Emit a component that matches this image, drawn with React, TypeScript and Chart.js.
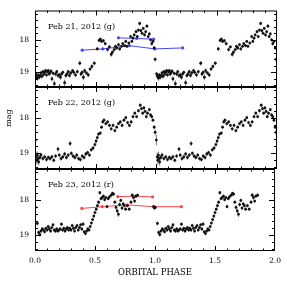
import React, { useEffect, useRef } from "react";
import { Chart, registerables } from "chart.js";
Chart.register(...registerables);

// ---------------- DATA ----------------
const panelLabels = ["Feb 21, 2012 (g)", "Feb 22, 2012 (g)", "Feb 23, 2012 (r)"];
const xTickValues = [0, 0.5, 1.0, 1.5, 2.0];
const yTickValues = [18, 19];

// Feb 21 (g) folded light curve, one cycle (repeated at phase+1 as in the original)
const feb21Phase = [0.005,0.012,0.02,0.028,0.035,0.043,0.05,0.058,0.065,0.073,0.08,0.088,0.095,0.103,0.11,0.118,0.125,0.133,0.14,0.15,0.16,0.17,0.18,0.19,0.2,0.21,0.22,0.23,0.245,0.255,0.265,0.275,0.285,0.295,0.31,0.32,0.335,0.35,0.37,0.38,0.39,0.4,0.41,0.425,0.44,0.455,0.47,0.49,0.515,0.53,0.54,0.55,0.565,0.58,0.6,0.615,0.63,0.64,0.655,0.665,0.675,0.69,0.7,0.715,0.725,0.74,0.75,0.76,0.775,0.79,0.8,0.81,0.82,0.835,0.845,0.855,0.865,0.875,0.885,0.895,0.905,0.915,0.925,0.935,0.945,0.955,0.965,0.975,0.985,0.993];
const feb21Mag = [19.05,19.12,19.18,19.08,19.15,19.1,19.02,19.12,18.98,19.06,19.0,18.95,19.08,18.98,18.95,19.05,19.0,18.96,19.2,19.03,19.35,19.05,18.98,19.1,19.08,19.15,19.05,19.0,19.32,19.1,19.05,18.98,19.1,19.02,18.95,19.0,19.08,18.98,18.72,19.05,19.0,19.15,18.95,19.02,19.08,18.9,18.82,18.72,18.28,18.02,17.98,18.05,18.03,18.12,18.3,18.22,18.45,18.38,18.3,18.2,18.25,18.15,18.28,18.2,18.12,18.18,18.05,18.2,18.1,17.9,18.05,17.95,17.85,17.75,17.9,17.7,17.5,17.72,17.8,17.65,17.85,17.75,17.58,17.9,17.82,18.0,18.12,18.05,18.25,18.6];
const feb21Err = [0.06,0.07,0.08,0.06,0.07,0.06,0.06,0.07,0.06,0.06,0.07,0.06,0.06,0.06,0.06,0.07,0.06,0.06,0.09,0.06,0.1,0.07,0.06,0.07,0.07,0.08,0.06,0.06,0.1,0.07,0.07,0.06,0.07,0.06,0.06,0.07,0.07,0.06,0.07,0.07,0.06,0.09,0.07,0.06,0.07,0.06,0.07,0.06,0.06,0.05,0.05,0.05,0.05,0.05,0.06,0.05,0.07,0.06,0.06,0.05,0.06,0.05,0.06,0.05,0.05,0.05,0.05,0.05,0.05,0.05,0.05,0.05,0.05,0.05,0.05,0.05,0.06,0.05,0.05,0.05,0.05,0.05,0.06,0.05,0.05,0.05,0.06,0.05,0.06,0.07];

// Feb 22 (g)
const feb22Phase = [0.003,0.01,0.015,0.02,0.025,0.03,0.04,0.05,0.065,0.08,0.095,0.11,0.125,0.14,0.155,0.17,0.19,0.2,0.215,0.23,0.245,0.26,0.275,0.29,0.3,0.315,0.33,0.345,0.36,0.375,0.39,0.405,0.42,0.435,0.45,0.465,0.48,0.495,0.505,0.515,0.525,0.54,0.55,0.56,0.57,0.585,0.6,0.615,0.63,0.645,0.66,0.675,0.69,0.705,0.72,0.735,0.75,0.765,0.78,0.795,0.81,0.825,0.84,0.855,0.87,0.88,0.89,0.9,0.91,0.92,0.93,0.945,0.955,0.965,0.975,0.985,0.993];
const feb22Mag = [18.62,19.1,19.2,19.05,19.15,19.25,19.12,19.05,19.15,19.1,19.18,19.12,19.15,19.1,19.2,19.08,18.88,19.05,19.15,19.1,19.02,19.12,19.05,18.72,19.0,19.08,19.12,19.05,19.15,19.18,19.08,19.12,19.02,18.98,19.05,18.9,18.85,18.75,18.65,18.55,18.45,18.42,18.25,18.1,18.05,18.15,18.1,18.2,18.3,18.2,18.35,18.25,18.15,18.1,18.2,18.05,17.98,18.12,18.2,18.1,17.95,17.85,17.95,17.78,17.62,17.72,17.85,17.7,17.8,17.95,17.85,17.75,17.9,17.95,18.05,18.25,18.4];
const feb22Err = [0.15,0.12,0.12,0.1,0.1,0.1,0.08,0.07,0.06,0.06,0.06,0.06,0.06,0.06,0.06,0.06,0.07,0.06,0.06,0.07,0.06,0.06,0.06,0.07,0.06,0.06,0.06,0.06,0.06,0.06,0.06,0.06,0.06,0.06,0.06,0.06,0.06,0.06,0.06,0.06,0.05,0.05,0.05,0.05,0.05,0.05,0.05,0.05,0.05,0.05,0.05,0.05,0.05,0.05,0.05,0.05,0.05,0.05,0.05,0.05,0.05,0.05,0.05,0.05,0.05,0.05,0.05,0.05,0.05,0.05,0.05,0.05,0.05,0.05,0.05,0.06,0.08];

// Feb 23 (r)
const feb23Phase = [-0.012,-0.006,0.003,0.02,0.03,0.04,0.05,0.06,0.07,0.08,0.09,0.1,0.11,0.12,0.13,0.14,0.15,0.16,0.17,0.18,0.19,0.2,0.21,0.22,0.23,0.24,0.25,0.26,0.27,0.28,0.29,0.3,0.31,0.32,0.33,0.34,0.35,0.36,0.37,0.38,0.39,0.4,0.41,0.42,0.43,0.44,0.45,0.46,0.47,0.48,0.49,0.5,0.51,0.52,0.53,0.54,0.55,0.56,0.57,0.58,0.59,0.6,0.61,0.62,0.635,0.645,0.655,0.665,0.675,0.685,0.695,0.705,0.715,0.725,0.735,0.745,0.755,0.77,0.785,0.8,0.81,0.82,0.83,0.84,0.855];
const feb23Mag = [18.18,18.22,18.2,18.66,18.92,18.98,18.88,18.82,18.85,18.9,18.8,18.85,18.75,18.82,18.88,18.78,18.7,18.85,18.88,18.82,18.88,18.85,18.82,18.68,18.85,18.8,18.88,18.82,18.78,18.85,18.8,18.85,18.72,18.8,18.88,18.78,18.72,18.85,18.78,18.7,18.82,18.68,18.9,18.95,18.88,18.82,18.85,18.75,18.65,18.55,18.45,18.35,18.25,18.15,18.05,17.78,17.95,17.92,17.88,17.98,17.92,18.18,17.95,17.9,17.85,17.8,17.82,18.05,18.2,18.3,18.4,18.12,18.0,18.22,18.1,18.15,18.25,18.15,18.25,18.05,17.85,17.92,18.02,17.88,17.85];
const feb23Err = [0.04,0.04,0.05,0.06,0.06,0.06,0.06,0.05,0.05,0.05,0.05,0.05,0.05,0.05,0.05,0.05,0.05,0.05,0.05,0.05,0.05,0.05,0.05,0.05,0.05,0.05,0.05,0.05,0.05,0.05,0.05,0.05,0.05,0.05,0.05,0.05,0.05,0.05,0.05,0.05,0.05,0.06,0.05,0.05,0.05,0.05,0.05,0.05,0.05,0.05,0.05,0.05,0.05,0.05,0.05,0.05,0.05,0.05,0.05,0.05,0.05,0.05,0.05,0.05,0.05,0.05,0.05,0.05,0.06,0.06,0.07,0.06,0.05,0.06,0.05,0.05,0.05,0.05,0.05,0.05,0.06,0.06,0.05,0.05,0.05];

// Binned comparison light curves (blue: g, red: r)
const blueLowPhase = [0.39, 0.56, 0.78, 0.99, 1.22];
const blueLowMag = [18.32, 18.28, 18.18, 18.28, 18.25];
const blueHighPhase = [0.69, 0.84, 0.98];
const blueHighMag = [17.94, 17.96, 17.98];
const redLowPhase = [0.39, 0.56, 0.77, 0.99, 1.22];
const redLowMag = [18.23, 18.18, 18.13, 18.18, 18.18];
const redHighPhase = [0.69, 0.84, 0.98];
const redHighMag = [17.89, 17.88, 17.9];

// ---------------- HELPERS ----------------
const W = 287;
const H = 282;
const panelTop = [5, 87, 169];
const panelBottom = [87, 169, 251];
const FONT = '"DejaVu Serif", serif';

function folded(phase: number[], mag: number[], err: number[]) {
  const pts: { x: number; y: number }[] = [];
  const errs: number[] = [];
  for (let c = 0; c < 2; c++) {
    phase.forEach((p, i) => {
      pts.push({ x: p + c, y: mag[i] });
      errs.push(err[i]);
    });
  }
  return { pts, errs };
}

function linePts(phase: number[], mag: number[]) {
  return phase.map((p, i) => ({ x: p, y: mag[i] }));
}

const errorBarPlugin = {
  id: "errorBars",
  beforeDatasetsDraw(chart: any) {
    const { ctx, chartArea, scales } = chart;
    const xs = scales.x, ys = scales.y;
    ctx.save();
    ctx.beginPath();
    ctx.rect(chartArea.left, chartArea.top, chartArea.right - chartArea.left, chartArea.bottom - chartArea.top);
    ctx.clip();
    chart.data.datasets.forEach((ds: any) => {
      if (!ds.errors) return;
      ctx.strokeStyle = "#555";
      ctx.lineWidth = 0.8;
      ctx.beginPath();
      ds.data.forEach((p: any, j: number) => {
        const px = xs.getPixelForValue(p.x);
        ctx.moveTo(px, ys.getPixelForValue(p.y - ds.errors[j]));
        ctx.lineTo(px, ys.getPixelForValue(p.y + ds.errors[j]));
      });
      ctx.stroke();
    });
    ctx.restore();
  },
};

function makeFramePlugin(label: string, showMag: boolean) {
  return {
    id: "frame",
    afterDraw(chart: any) {
      const { ctx, chartArea, scales } = chart;
      const { left, right, top, bottom } = chartArea;
      const xs = scales.x, ys = scales.y;
      ctx.save();
      ctx.strokeStyle = "#000";
      ctx.lineWidth = 1;
      ctx.strokeRect(left + 0.5, top + 0.5, right - left - 1, bottom - top - 1);
      ctx.beginPath();
      for (let k = 1; k < 20; k++) {
        const v = k / 10;
        const px = Math.round(xs.getPixelForValue(v)) + 0.5;
        const len = k % 5 === 0 ? 5 : 2.5;
        ctx.moveTo(px, bottom);
        ctx.lineTo(px, bottom - len);
        ctx.moveTo(px, top);
        ctx.lineTo(px, top + len);
      }
      for (let k = 80; k <= 100; k++) {
        const v = k / 5;
        if (v <= ys.min || v >= ys.max) continue;
        const py = Math.round(ys.getPixelForValue(v)) + 0.5;
        const len = k % 5 === 0 ? 6 : 3;
        ctx.moveTo(left, py);
        ctx.lineTo(left + len, py);
        ctx.moveTo(right, py);
        ctx.lineTo(right - len, py);
      }
      ctx.stroke();
      ctx.fillStyle = "#000";
      ctx.font = `8px ${FONT}`;
      ctx.textAlign = "left";
      ctx.textBaseline = "alphabetic";
      ctx.fillText(label, left + 13, top + 18);
      if (showMag) {
        ctx.translate(9, 118);
        ctx.rotate(-Math.PI / 2);
        ctx.font = `8px ${FONT}`;
        ctx.textAlign = "center";
        ctx.textBaseline = "middle";
        ctx.fillText("mag", 0, 0);
      }
      ctx.restore();
    },
  };
}

function buildConfig(i: number) {
  const src = [
    folded(feb21Phase, feb21Mag, feb21Err),
    folded(feb22Phase, feb22Mag, feb22Err),
    folded(feb23Phase, feb23Mag, feb23Err),
  ][i];
  const datasets: any[] = [
    {
      data: src.pts,
      errors: src.errs,
      pointRadius: 1.4,
      pointBackgroundColor: "#111",
      pointBorderWidth: 0,
      showLine: false,
    },
  ];
  if (i === 0 || i === 2) {
    const color = i === 0 ? "rgb(70,70,255)" : "rgb(255,70,70)";
    const low = i === 0 ? linePts(blueLowPhase, blueLowMag) : linePts(redLowPhase, redLowMag);
    const high = i === 0 ? linePts(blueHighPhase, blueHighMag) : linePts(redHighPhase, redHighMag);
    [low, high].forEach((d) =>
      datasets.push({
        data: d,
        showLine: true,
        borderColor: color,
        borderWidth: 1,
        pointRadius: 1.6,
        pointBackgroundColor: color,
        pointBorderColor: color,
        pointBorderWidth: 0,
      })
    );
  }
  const isBottom = i === 2;
  const xScale: any = {
    type: "linear",
    min: 0,
    max: 2,
    display: isBottom,
    grid: { display: false, drawTicks: false },
    border: { display: false },
    afterBuildTicks: (s: any) => {
      s.ticks = xTickValues.map((v) => ({ value: v }));
    },
    ticks: {
      color: "#000",
      font: { family: FONT, size: 7.5 },
      padding: 6,
      maxRotation: 0,
      autoSkip: false,
      callback: (v: any) => Number(v).toFixed(1),
    },
    title: {
      display: isBottom,
      text: "ORBITAL PHASE",
      color: "#000",
      font: { family: FONT, size: 8.5 },
      padding: { top: 0, bottom: 4 },
    },
  };
  if (isBottom) {
    xScale.afterFit = (s: any) => {
      s.height = 31;
    };
  }
  return {
    type: "scatter",
    data: { datasets },
    options: {
      animation: false,
      responsive: false,
      devicePixelRatio: 1,
      layout: {
        padding: { left: 0, right: 10, top: panelTop[i], bottom: isBottom ? 0 : H - panelBottom[i] },
      },
      plugins: { legend: { display: false }, tooltip: { enabled: false } },
      scales: {
        x: xScale,
        y: {
          type: "linear",
          reverse: true,
          min: 17.1,
          max: 19.45,
          grid: { display: false, drawTicks: false },
          border: { display: false },
          afterBuildTicks: (s: any) => {
            s.ticks = yTickValues.map((v) => ({ value: v }));
          },
          ticks: {
            color: "#000",
            font: { family: FONT, size: 7.5 },
            padding: 6,
            callback: (v: any) => String(v),
          },
          afterFit: (s: any) => {
            s.width = 35;
          },
        },
      },
    },
    plugins: [errorBarPlugin, makeFramePlugin(panelLabels[i], i === 1)],
  };
}

export default function App() {
  const r0 = useRef<HTMLCanvasElement>(null);
  const r1 = useRef<HTMLCanvasElement>(null);
  const r2 = useRef<HTMLCanvasElement>(null);
  useEffect(() => {
    const refs = [r0, r1, r2];
    const charts = refs.map((r, i) => new Chart(r.current as HTMLCanvasElement, buildConfig(i) as any));
    return () => charts.forEach((c) => c.destroy());
  }, []);
  const st: React.CSSProperties = { position: "absolute", left: 0, top: 0, width: W, height: H };
  return (
    <div style={{ position: "fixed", left: 0, top: 0, width: W, height: H, background: "#fff" }}>
      <canvas ref={r0} width={W} height={H} style={st} />
      <canvas ref={r1} width={W} height={H} style={st} />
      <canvas ref={r2} width={W} height={H} style={st} />
    </div>
  );
}
